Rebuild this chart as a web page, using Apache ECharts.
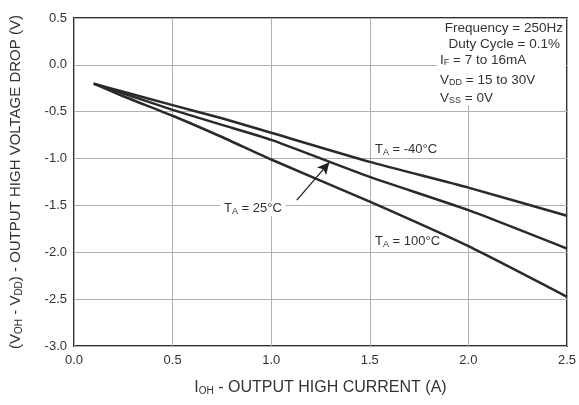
<!DOCTYPE html>
<html><head><meta charset="utf-8">
<script src="https://cdn.jsdelivr.net/npm/echarts@6/dist/echarts.min.js"></script>
<style>html,body{margin:0;padding:0;background:#fff}#c{width:579px;height:405px}</style>
</head><body><div id="c"></div>
<script>
const current = [0.1, 0.25, 0.5, 0.75, 1.0, 1.5, 2.0, 2.5];
const tMinus40 = [-0.2, -0.287, -0.43, -0.57, -0.725, -1.035, -1.31, -1.61];
const t25 = [-0.2, -0.305, -0.48, -0.64, -0.80, -1.195, -1.55, -1.96];
const t100 = [-0.2, -0.335, -0.543, -0.77, -1.01, -1.46, -1.935, -2.475];
const xTicks = [0.0, 0.5, 1.0, 1.5, 2.0, 2.5];
const yTicks = [0.5, 0.0, -0.5, -1.0, -1.5, -2.0, -2.5, -3.0];
const arrowFrom = [1.13, -1.444];
const arrowTo = [1.295, -1.04];

const FONT = 'Liberation Sans, Arial, sans-serif';
const pair = (ys) => current.map((x, i) => [x, ys[i]]);
const lineStyle = { color: '#2a2a2a', width: 2.5 };
const sub = { fontSize: 9, verticalAlign: 'bottom', padding: [6, 0, 0, 0], fontFamily: FONT, color: '#333' };
const subBig = { fontSize: 10, verticalAlign: 'bottom', padding: [7, 0, 0, 0], fontFamily: FONT, color: '#333' };

const chart = echarts.init(document.getElementById('c'));
chart.setOption({
  animation: false,
  backgroundColor: '#fff',
  grid: { left: 69, right: 11, top: 18, bottom: 59, show: true, borderColor: '#333', borderWidth: 2, backgroundColor: 'transparent' },
  xAxis: {
    type: 'value', min: 0, max: 2.5, interval: 0.5,
    axisLine: { show: false }, axisTick: { show: false },
    splitLine: { lineStyle: { color: '#b0b0b0', width: 1 } },
    axisLabel: { color: '#333', fontSize: 13, fontFamily: FONT, margin: 8, formatter: v => v.toFixed(1) },
    name: 'I{s|OH} - OUTPUT HIGH CURRENT (A)', nameLocation: 'middle', nameGap: 33,
    nameTextStyle: { color: '#333', fontSize: 16, fontFamily: FONT, rich: { s: subBig } }
  },
  yAxis: {
    type: 'value', min: -3, max: 0.5, interval: 0.5,
    axisLine: { show: false }, axisTick: { show: false },
    splitLine: { lineStyle: { color: '#b0b0b0', width: 1 } },
    axisLabel: { color: '#333', fontSize: 13, fontFamily: FONT, margin: 7, formatter: v => v.toFixed(1) },
    name: '(V{s|OH} - V{s|DD}) - OUTPUT HIGH VOLTAGE DROP (V)', nameLocation: 'middle', nameGap: 50, nameRotate: 90,
    nameTextStyle: { color: '#333', fontSize: 15, fontFamily: FONT, rich: { s: subBig } }
  },
  series: [
    { type: 'line', data: pair(tMinus40), symbol: 'none', lineStyle, smooth: 0.2, z: 3 },
    { type: 'line', data: pair(t25), symbol: 'none', lineStyle, smooth: 0.2, z: 3,
      markLine: { silent: true, symbol: ['none', 'arrow'], symbolSize: [9, 12], label: { show: false },
        lineStyle: { color: '#222', width: 1.3, type: 'solid' },
        data: [[{ coord: arrowFrom }, { coord: arrowTo }]] } },
    { type: 'line', data: pair(t100), symbol: 'none', lineStyle, smooth: 0.2, z: 3 }
  ],
  graphic: [
    { type: 'rect', z: 50, shape: { x: 437, y: 19, width: 129, height: 86 }, style: { fill: '#fff' } },
    { type: 'text', z: 51, right: 16, top: 21, style: { text: 'Frequency = 250Hz', fontSize: 13.5, fontFamily: FONT, fill: '#333' } },
    { type: 'text', z: 51, right: 19, top: 37, style: { text: 'Duty Cycle = 0.1%', fontSize: 13.5, fontFamily: FONT, fill: '#333' } },
    { type: 'text', z: 51, left: 440, top: 53, style: { text: 'I{s|F} = 7 to 16mA', fontSize: 13.5, fontFamily: FONT, fill: '#333', rich: { s: sub } } },
    { type: 'text', z: 51, left: 440, top: 73, style: { text: 'V{s|DD} = 15 to 30V', fontSize: 13.5, fontFamily: FONT, fill: '#333', rich: { s: sub } } },
    { type: 'text', z: 51, left: 440, top: 91, style: { text: 'V{s|SS} = 0V', fontSize: 13.5, fontFamily: FONT, fill: '#333', rich: { s: sub } } },
    { type: 'text', z: 51, left: 375, top: 143, style: { text: 'T{s|A} = -40°C', fontSize: 13, fontFamily: FONT, fill: '#333', rich: { s: sub } } },
    { type: 'text', z: 51, left: 220, top: 201, style: { text: 'T{s|A} = 25°C', fontSize: 13, fontFamily: FONT, fill: '#333', backgroundColor: '#fff', padding: [0, 4], rich: { s: sub } } },
    { type: 'text', z: 51, left: 375, top: 235, style: { text: 'T{s|A} = 100°C', fontSize: 13, fontFamily: FONT, fill: '#333', rich: { s: sub } } }
  ]
});
</script></body></html>
